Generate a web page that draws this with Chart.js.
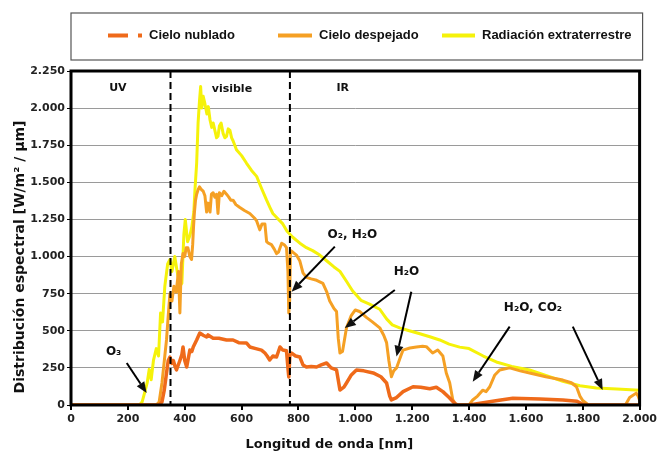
<!DOCTYPE html>
<html lang="es">
<head>
<meta charset="utf-8">
<script src="https://cdn.jsdelivr.net/npm/chart.js"></script>
<style>
  html, body { margin: 0; padding: 0; background: #fff; }
  .chart-box { width: 660px; height: 455px; position: relative; }
</style>
</head>
<body>
<div class="chart-box"><canvas id="spectrum"></canvas></div>
<script>
// Spectral irradiance [W/m2/um] vs wavelength [nm]

const seriesLabels = ['Cielo nublado', 'Cielo despejado', 'Radiación extraterrestre'];

const nubladoWl = [0, 310, 320, 328, 336, 342, 348, 355, 360, 366, 371, 383, 390, 394, 400, 407, 418, 425, 430, 442, 453, 465, 477, 482, 500, 520, 547, 570, 590, 617, 629, 650, 670, 682, 690, 699, 710, 723, 735, 745, 758, 763, 766, 770, 776, 790, 805, 816, 828, 845, 864, 880, 899, 915, 934, 946, 960, 969, 985, 1004, 1030, 1063, 1090, 1110, 1121, 1127, 1145, 1168, 1203, 1230, 1262, 1285, 1308, 1330, 1350, 1360, 1400, 1450, 1500, 1554, 1650, 1730, 1780, 1800, 1820, 2000];
const nubladoVal = [0, 0, 20, 100, 215, 300, 323, 280, 300, 260, 236, 300, 340, 391, 300, 256, 370, 360, 391, 438, 485, 470, 458, 472, 450, 450, 438, 438, 420, 418, 391, 380, 370, 350, 330, 303, 330, 323, 391, 370, 365, 250, 189, 340, 350, 330, 323, 270, 256, 260, 256, 270, 283, 250, 236, 101, 120, 148, 200, 236, 230, 216, 190, 148, 60, 34, 50, 90, 123, 120, 110, 120, 90, 50, 10, 0, 0, 15, 30, 45, 40, 34, 25, 5, 0, 0];

const despejadoWl = [0, 300, 310, 320, 330, 336, 342, 348, 355, 362, 370, 378, 383, 388, 394, 400, 405, 411, 418, 424, 428, 431, 434, 438, 442, 447, 452, 459, 465, 471, 477, 482, 489, 494, 500, 506, 512, 517, 522, 530, 538, 547, 555, 562, 570, 580, 594, 610, 629, 645, 653, 664, 672, 682, 688, 694, 705, 715, 723, 730, 741, 750, 758, 763, 766, 769, 772, 780, 793, 805, 816, 828, 845, 864, 886, 900, 910, 925, 934, 940, 946, 955, 969, 985, 1000, 1015, 1039, 1060, 1086, 1100, 1110, 1118, 1127, 1135, 1145, 1160, 1168, 1192, 1215, 1237, 1250, 1272, 1290, 1308, 1320, 1332, 1343, 1355, 1400, 1413, 1430, 1448, 1460, 1473, 1490, 1508, 1543, 1580, 1613, 1670, 1730, 1760, 1778, 1790, 1800, 1820, 1950, 1965, 1988, 1995, 2000];
const despejadoVal = [0, 0, 20, 150, 330, 440, 600, 750, 700, 800, 760, 900, 620, 950, 1020, 1000, 1060, 1060, 1000, 980, 1080, 1200, 1294, 1380, 1420, 1450, 1470, 1450, 1440, 1410, 1300, 1360, 1300, 1420, 1430, 1400, 1420, 1290, 1430, 1410, 1440, 1420, 1400, 1380, 1380, 1350, 1330, 1310, 1290, 1260, 1240, 1180, 1220, 1220, 1100, 1090, 1080, 1050, 1020, 1030, 1090, 1080, 1060, 900, 620, 700, 1040, 1030, 1010, 970, 890, 860, 850, 840, 820, 760, 700, 650, 630, 450, 350, 360, 520, 600, 640, 630, 590, 560, 520, 470, 420, 300, 190, 230, 250, 330, 370, 384, 390, 395, 393, 350, 370, 330, 216, 150, 34, 0, 0, 34, 60, 100, 90, 123, 200, 236, 250, 230, 216, 190, 168, 150, 123, 60, 30, 0, 0, 50, 80, 60, 30];

const extraWl = [0, 240, 250, 260, 268, 275, 282, 290, 300, 308, 315, 322, 330, 340, 348, 355, 365, 375, 383, 390, 397, 402, 410, 418, 425, 432, 436, 442, 447, 452, 456, 460, 465, 471, 478, 483, 489, 495, 500, 506, 512, 517, 522, 528, 535, 541, 547, 553, 559, 565, 570, 582, 600, 617, 635, 653, 670, 688, 700, 710, 725, 745, 760, 780, 805, 828, 850, 875, 900, 925, 946, 970, 990, 1020, 1050, 1086, 1110, 1130, 1156, 1190, 1227, 1262, 1297, 1330, 1367, 1400, 1450, 1496, 1550, 1613, 1670, 1730, 1790, 1848, 1920, 2000];
const extraVal = [0, 0, 20, 90, 150, 240, 170, 300, 380, 330, 620, 560, 800, 950, 980, 900, 1000, 880, 800, 820, 1150, 1250, 1100, 1140, 1200, 1300, 1450, 1630, 1900, 2050, 2145, 2000, 2080, 2030, 1960, 2010, 1920, 1870, 1900, 1850, 1800, 1810, 1880, 1900, 1830, 1800, 1810, 1860, 1850, 1800, 1780, 1720, 1680, 1630, 1580, 1540, 1460, 1380, 1330, 1290, 1260, 1220, 1170, 1130, 1090, 1060, 1040, 1010, 970, 930, 900, 830, 770, 705, 680, 645, 580, 540, 520, 500, 480, 460, 438, 410, 390, 380, 330, 290, 260, 236, 200, 160, 130, 114, 108, 100];

const xMax = 2000, xStep = 200;
const yMax = 2250, yStep = 250;

// band limits (dashed lines) and band names
const bandEdges = [350, 770];
const bandNames = [['UV', 165, 2136], ['visible', 566, 2130], ['IR', 956, 2136]];

// absorption labels [text, nm, value] and arrows [fromNm, fromVal, toNm, toVal]
const absorbLabels = [['O\u2083', 150, 357], ['O\u2082, H\u2082O', 990, 1145], ['H\u2082O', 1180, 896], ['H\u2082O, CO\u2082', 1625, 654]];
const absorbArrows = [
  [196, 283, 266, 81],
  [928, 1067, 776, 763],
  [1139, 775, 963, 519],
  [1197, 763, 1145, 326],
  [1543, 528, 1413, 157],
  [1765, 528, 1870, 101]
];

const colors = ['#ef6a1a', '#f5a024', '#f5f20a'];

function fmtEs(v) {
  return String(v).replace(/\B(?=(\d{3})+(?!\d))/g, '.');
}

function pts(wl, val) {
  return wl.map((w, i) => ({ x: w, y: val[i] }));
}

const tickFont = { family: 'DejaVu Sans', size: 11, weight: 'bold' };

const decor = {
  id: 'decor',
  afterDatasetsDraw(chart) {
    const { ctx, chartArea: a, scales: { x, y } } = chart;
    ctx.save();
    // band separators
    ctx.strokeStyle = '#000';
    ctx.lineWidth = 2;
    ctx.setLineDash([7, 4]);
    bandEdges.forEach(b => {
      const px = x.getPixelForValue(b);
      ctx.beginPath();
      ctx.moveTo(px, a.top);
      ctx.lineTo(px, a.bottom);
      ctx.stroke();
    });
    ctx.setLineDash([]);

    ctx.fillStyle = '#111';
    ctx.textAlign = 'center';
    ctx.textBaseline = 'middle';
    ctx.font = 'bold 11px "DejaVu Sans"';
    bandNames.forEach(([t, nm, v]) => ctx.fillText(t, x.getPixelForValue(nm), y.getPixelForValue(v)));

    ctx.font = 'bold 12px "DejaVu Sans"';
    absorbLabels.forEach(([t, nm, v]) => ctx.fillText(t, x.getPixelForValue(nm), y.getPixelForValue(v)));

    // arrows
    ctx.lineWidth = 2;
    absorbArrows.forEach(([x0, y0, x1, y1]) => {
      const ax = x.getPixelForValue(x0), ay = y.getPixelForValue(y0);
      const bx = x.getPixelForValue(x1), by = y.getPixelForValue(y1);
      const ang = Math.atan2(by - ay, bx - ax);
      const hl = 11, hw = 4.5;
      const ex = bx - Math.cos(ang) * hl, ey = by - Math.sin(ang) * hl;
      ctx.beginPath();
      ctx.moveTo(ax, ay);
      ctx.lineTo(ex, ey);
      ctx.stroke();
      ctx.beginPath();
      ctx.moveTo(bx, by);
      ctx.lineTo(ex - Math.sin(ang) * hw, ey + Math.cos(ang) * hw);
      ctx.lineTo(ex + Math.sin(ang) * hw, ey - Math.cos(ang) * hw);
      ctx.closePath();
      ctx.fill();
    });

    // frame
    ctx.lineWidth = 3;
    ctx.strokeRect(a.left, a.top, a.right - a.left, a.bottom - a.top);

    // axis titles
    ctx.font = 'bold 13px "DejaVu Sans"';
    ctx.fillText('Longitud de onda [nm]', (a.left + a.right) / 2 - 26, a.bottom + 40);
    ctx.save();
    ctx.translate(20, (a.top + a.bottom) / 2 + 19);
    ctx.rotate(-Math.PI / 2);
    ctx.font = 'bold 14px "DejaVu Sans"';
    ctx.fillText('Distribución espectral [W/m² / µm]', 0, 0);
    ctx.restore();

    // legend box
    const lt = 13, lb = 60, ll = a.left, lr = a.right + 3;
    ctx.lineWidth = 1.2;
    ctx.strokeStyle = '#555';
    ctx.strokeRect(ll, lt, lr - ll, lb - lt);
    const my = (lt + lb) / 2 - 1;
    const items = [[37, 34, [20, 10, 4, 100]], [207, 34, []], [371, 33, []]];
    ctx.font = 'bold 13px "Liberation Sans", Arial, sans-serif';
    ctx.textAlign = 'left';
    ctx.fillStyle = '#111';
    items.forEach(([off, w, dash], i) => {
      ctx.strokeStyle = colors[i];
      ctx.lineWidth = 4;
      ctx.setLineDash(dash);
      ctx.beginPath();
      ctx.moveTo(ll + off, my);
      ctx.lineTo(ll + off + w, my);
      ctx.stroke();
      ctx.setLineDash([]);
      ctx.fillText(seriesLabels[i], ll + off + w + 7, my);
    });
    ctx.restore();
  }
};

new Chart(document.getElementById('spectrum'), {
  type: 'line',
  data: {
    datasets: [
      { label: seriesLabels[0], data: pts(nubladoWl, nubladoVal), borderColor: colors[0], borderWidth: 3.5 },
      { label: seriesLabels[1], data: pts(despejadoWl, despejadoVal), borderColor: colors[1], borderWidth: 3 },
      { label: seriesLabels[2], data: pts(extraWl, extraVal), borderColor: colors[2], borderWidth: 3 }
    ]
  },
  options: {
    responsive: true,
    maintainAspectRatio: false,
    animation: false,
    parsing: false,
    elements: { point: { radius: 0 }, line: { tension: 0, borderJoinStyle: 'round', borderCapStyle: 'round' } },
    layout: { padding: { top: 71, right: 20, left: 0, bottom: 0 } },
    plugins: { legend: { display: false }, tooltip: { enabled: false } },
    scales: {
      x: {
        type: 'linear', min: 0, max: xMax,
        afterFit: s => { s.height = 50; },
        ticks: { stepSize: xStep, color: '#222', font: tickFont, padding: 3, callback: v => fmtEs(v), maxRotation: 0 },
        grid: { drawOnChartArea: false, color: '#000', tickLength: 5, lineWidth: 2 },
        border: { display: false }
      },
      y: {
        min: 0, max: yMax,
        afterFit: s => { s.width = 71; },
        ticks: { stepSize: yStep, color: '#222', font: tickFont, padding: 2, callback: v => fmtEs(v) },
        grid: { color: '#9a9a9a', lineWidth: 1, tickLength: 4, tickColor: '#000' },
        border: { display: false }
      }
    }
  },
  plugins: [decor]
});
</script>
</body>
</html>
